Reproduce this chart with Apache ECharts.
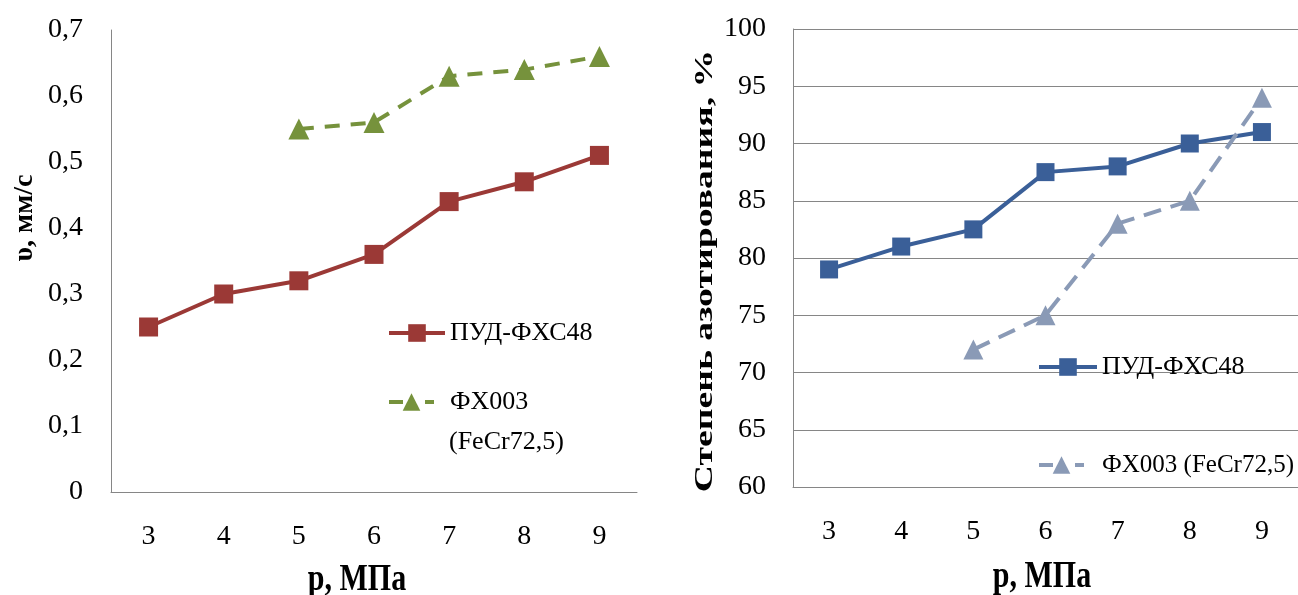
<!DOCTYPE html>
<html>
<head>
<meta charset="utf-8">
<script src="https://cdn.jsdelivr.net/npm/echarts@6/dist/echarts.min.js"></script>
<style>
html,body{margin:0;padding:0;background:#fff;}
#c{width:1298px;height:595px;}
</style>
</head>
<body>
<div id="c"></div>
<script>
// ---- data ----
const pressure = ['3', '4', '5', '6', '7', '8', '9'];
const speedPUD = [0.25, 0.30, 0.32, 0.36, 0.44, 0.47, 0.51];
const speedFX = [null, null, 0.55, 0.56, 0.63, 0.64, 0.66];
const nitrPUD = [79, 81, 82.5, 87.5, 88, 90, 91];
const nitrFX = [null, null, 72, 75, 83, 85, 94];
const nameA = 'ПУД-ФХС48';
const nameB = 'ФХ003 (FeCr72,5)';
const leftYTitle = 'υ, мм/с';
const rightYTitle = 'Степень азотирования, %';
const xTitle = 'p, МПа';

const FONT = "'Liberation Serif', 'Times New Roman', serif";
const AX = '#868686';
// right-chart series get a trailing space so that each legend picks its own series
const nameA2 = nameA + ' ';
const nameB2 = nameB + ' ';

const chart = echarts.init(document.getElementById('c'), null, {renderer: 'canvas'});

function xAxis(gi) {
  return {
    type: 'category', gridIndex: gi, data: pressure, boundaryGap: true,
    axisLine: {show: true, lineStyle: {color: AX, width: 1}},
    axisTick: {show: false},
    axisLabel: {fontFamily: FONT, fontSize: 28, color: '#000', margin: 31},
    splitLine: {show: false}
  };
}

function legend(name, left, top, w, padLeft, fontSize, dash, fmt) {
  const ls = {width: 4};
  if (dash) ls.type = dash;
  return {
    data: [name], left: left, top: top, orient: 'vertical', padding: 0,
    itemWidth: w, itemHeight: 22, itemGap: 0,
    lineStyle: ls,
    formatter: fmt || (n => n.trim()),
    textStyle: {fontFamily: FONT, fontSize: fontSize, lineHeight: 26, color: '#000', padding: [0, 0, 0, padLeft]}
  };
}

const option = {
  animation: false,
  backgroundColor: '#fff',
  grid: [
    {left: 111, top: 30, width: 526, height: 462},
    {left: 793, top: 29, width: 505, height: 458}
  ],
  xAxis: [xAxis(0), xAxis(1)],
  yAxis: [
    {
      type: 'value', gridIndex: 0, min: 0, max: 0.7, interval: 0.1,
      axisLine: {show: true, lineStyle: {color: AX, width: 1}},
      axisTick: {show: false},
      splitLine: {show: false},
      axisLabel: {fontFamily: FONT, fontSize: 28, color: '#000', margin: 28,
        formatter: v => (Math.round(v * 10) / 10).toString().replace('.', ',')}
    },
    {
      type: 'value', gridIndex: 1, min: 60, max: 100, interval: 5,
      axisLine: {show: true, lineStyle: {color: AX, width: 1}},
      axisTick: {show: false},
      splitLine: {show: true, lineStyle: {color: AX, width: 1}},
      axisLabel: {fontFamily: FONT, fontSize: 28, color: '#000', margin: 27}
    }
  ],
  legend: [
    legend(nameA, 387, 320, 56, 0, 26),
    legend(nameB, 387, 389, 45, 11, 26, [14, 22], n => n.split(' ')[0]),
    legend(nameA2, 1037, 354, 58, 0, 26),
    legend(nameB2, 1037, 452, 45, 13, 25, [14, 22])
  ],
  graphic: [
    {type: 'text', x: 449, y: 442, style: {text: '(FeCr72,5)', font: "26px " + FONT, fill: '#000', verticalAlign: 'middle', align: 'left'}},
    {type: 'text', x: 25, y: 218, rotation: Math.PI / 2, style: {text: leftYTitle, font: "bold 28px " + FONT, fill: '#000', align: 'center', verticalAlign: 'middle'}},
    {type: 'text', x: 705, y: 271, rotation: Math.PI / 2, scaleX: 1.45, style: {text: rightYTitle, font: "bold 26px " + FONT, fill: '#000', align: 'center', verticalAlign: 'middle'}},
    {type: 'text', x: 357, y: 580, scaleY: 1.25, style: {text: xTitle, font: "bold 30px " + FONT, fill: '#000', align: 'center', verticalAlign: 'middle'}},
    {type: 'text', x: 1042, y: 577, scaleY: 1.25, style: {text: xTitle, font: "bold 30px " + FONT, fill: '#000', align: 'center', verticalAlign: 'middle'}}
  ],
  series: [
    {
      name: nameA, type: 'line', xAxisIndex: 0, yAxisIndex: 0, data: speedPUD,
      symbol: 'rect', symbolSize: 19,
      lineStyle: {color: '#9B3936', width: 4},
      itemStyle: {color: '#9B3936'}
    },
    {
      name: nameB, type: 'line', xAxisIndex: 0, yAxisIndex: 0, data: speedFX,
      symbol: 'triangle', symbolSize: 21,
      lineStyle: {color: '#76923C', width: 4, type: [15, 11]},
      itemStyle: {color: '#76923C'}
    },
    {
      name: nameA2, type: 'line', xAxisIndex: 1, yAxisIndex: 1, data: nitrPUD,
      symbol: 'rect', symbolSize: 18,
      lineStyle: {color: '#3A5F98', width: 4},
      itemStyle: {color: '#3A5F98'}
    },
    {
      name: nameB2, type: 'line', xAxisIndex: 1, yAxisIndex: 1, data: nitrFX,
      symbol: 'triangle', symbolSize: 20, z: 3,
      lineStyle: {color: '#8A9AB6', width: 4, type: [18, 10]},
      itemStyle: {color: '#8A9AB6'}
    }
  ]
};
chart.setOption(option);
</script>
</body>
</html>
